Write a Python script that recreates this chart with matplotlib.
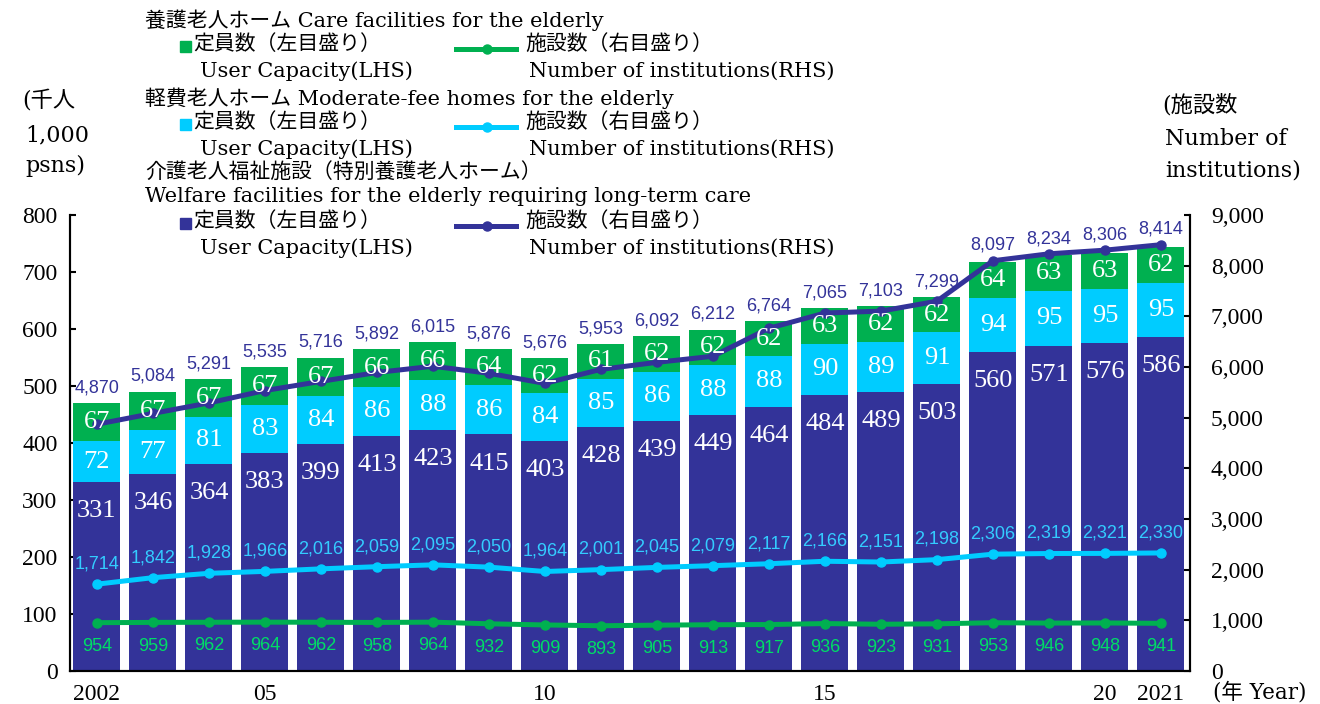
import matplotlib
matplotlib.use("Agg")
import matplotlib.pyplot as plt
import numpy as np
from matplotlib.lines import Line2D
from matplotlib.patches import Rectangle

# ---- data ----
years = [2002, 2003, 2004, 2005, 2006, 2007, 2008, 2009, 2010, 2011,
         2012, 2013, 2014, 2015, 2016, 2017, 2018, 2019, 2020, 2021]
year_labels = ["2002", "", "", "05", "", "", "", "", "10", "",
               "", "", "", "15", "", "", "", "", "20", "2021"]

# 定員数 (千人)
cap_welfare = [331, 346, 364, 383, 399, 413, 423, 415, 403, 428,
               439, 449, 464, 484, 489, 503, 560, 571, 576, 586]
cap_moderate = [72, 77, 81, 83, 84, 86, 88, 86, 84, 85,
                86, 88, 88, 90, 89, 91, 94, 95, 95, 95]
cap_care = [67, 67, 67, 67, 67, 66, 66, 64, 62, 61,
            62, 62, 62, 63, 62, 62, 64, 63, 63, 62]

# 施設数
inst_welfare = [4870, 5084, 5291, 5535, 5716, 5892, 6015, 5876, 5676, 5953,
                6092, 6212, 6764, 7065, 7103, 7299, 8097, 8234, 8306, 8414]
inst_moderate = [1714, 1842, 1928, 1966, 2016, 2059, 2095, 2050, 1964, 2001,
                 2045, 2079, 2117, 2166, 2151, 2198, 2306, 2319, 2321, 2330]
inst_care = [954, 959, 962, 964, 962, 958, 964, 932, 909, 893,
             905, 913, 917, 936, 923, 931, 953, 946, 948, 941]

NAVY = "#333399"
LBLUE = "#00CCFF"
GREEN = "#00B050"

SERIF = ["DejaVu Serif", "Noto Sans CJK JP"]
NUMF = ["Liberation Serif", "DejaVu Serif"]
SANSN = ["Liberation Sans Narrow", "Liberation Sans"]

W, H = 1320, 704
fig = plt.figure(figsize=(W / 100, H / 100), dpi=100)

def fx(px):
    return px / W

def fy(py):
    return 1 - py / H

ax = fig.add_axes([fx(70), fy(671), fx(1190) - fx(70), fy(215) - fy(671)])
ax2 = ax.twinx()

x = np.arange(len(years))
cw = np.array(cap_welfare)
cm = np.array(cap_moderate)
cc = np.array(cap_care)
bw = 0.84

ax.bar(x, cw, bw, color=NAVY, zorder=2)
ax.bar(x, cm, bw, bottom=cw, color=LBLUE, zorder=2)
ax.bar(x, cc, bw, bottom=cw + cm, color=GREEN, zorder=2)

ax.set_xlim(-0.48, len(years) - 0.48)
ax.set_ylim(0, 800)
ax.set_yticks(np.arange(0, 801, 100))
ax.set_xticks(x)
ax.set_xticklabels(year_labels)

ax2.set_ylim(0, 9000)
ax2.set_yticks(np.arange(0, 9001, 1000))
ax2.set_yticklabels([f"{v:,}" for v in range(0, 9001, 1000)])

for a in (ax, ax2):
    a.spines["top"].set_visible(False)
    for s in a.spines.values():
        s.set_linewidth(1.5)
ax.tick_params(axis="y", direction="in", length=4.5, width=1.5, pad=9)
ax.tick_params(axis="x", length=0, pad=9)
ax2.tick_params(axis="y", direction="in", length=4.5, width=1.5, pad=15)
for lab in ax.get_yticklabels() + ax.get_xticklabels() + ax2.get_yticklabels():
    lab.set_fontfamily(NUMF)
    lab.set_fontsize(17)

# lines on right axis
lk = dict(lw=3.6, marker="o", markersize=6.5, zorder=4, clip_on=False)
ax2.plot(x, inst_care, color=GREEN, **lk)
ax2.plot(x, inst_moderate, color=LBLUE, **lk)
ax2.plot(x, inst_welfare, color=NAVY, **lk)
ax2.set_zorder(ax.get_zorder() + 1)
ax2.patch.set_visible(False)

# bar value labels
for i in range(len(years)):
    ax2.annotate(str(cw[i]), xy=(i, cw[i] * 9000 / 800), xytext=(0, -21),
                 textcoords="offset points", ha="center", va="center",
                 color="white", fontsize=19, family=NUMF, zorder=6)
    ax2.text(i, (cw[i] + cm[i] / 2) * 9000 / 800, str(cm[i]), ha="center",
             va="center", color="white", fontsize=19, family=NUMF, zorder=6)
    ax2.text(i, (cw[i] + cm[i] + cc[i] / 2) * 9000 / 800, str(cc[i]), ha="center",
             va="center", color="white", fontsize=19, family=NUMF, zorder=6)
    top = max(inst_welfare[i], (cw[i] + cm[i] + cc[i]) * 9000 / 800)
    ax2.annotate(f"{inst_welfare[i]:,}", xy=(i, top), xytext=(0, 11),
                 textcoords="offset points", ha="center", va="center",
                 color=NAVY, fontsize=13, family=SANSN, zorder=6)
    ax2.annotate(f"{inst_moderate[i]:,}", xy=(i, inst_moderate[i]), xytext=(0, 14.5),
                 textcoords="offset points", ha="center", va="center",
                 color="#33CCFF", fontsize=13, family=SANSN, zorder=6)
    ax2.annotate(f"{inst_care[i]:,}", xy=(i, inst_care[i]), xytext=(0, -17),
                 textcoords="offset points", ha="center", va="center",
                 color="#00DD66", fontsize=13, family=SANSN, zorder=6)

# axis unit labels
tk = dict(fontsize=16, family=SERIF, va="center", ha="left")
fig.text(fx(22), fy(101), "(千人", **tk)
fig.text(fx(25), fy(135), "1,000", **tk)
fig.text(fx(25), fy(166), "psns)", **tk)
fig.text(fx(1162), fy(105), "(施設数", **tk)
fig.text(fx(1165), fy(139), "Number of", **tk)
fig.text(fx(1165), fy(171), "institutions)", **tk)
fig.text(fx(1213), fy(693), "(年 Year)", fontsize=15.5, family=SERIF,
         va="center", ha="left")

# legend block
lg = dict(fontsize=15, family=SERIF, va="center", ha="left")
groups = [
    (["養護老人ホーム Care facilities for the elderly"], GREEN, 20),
    (["軽費老人ホーム Moderate-fee homes for the elderly"], LBLUE, 98),
    (["介護老人福祉施設（特別養護老人ホーム）",
      "Welfare facilities for the elderly requiring long-term care"], NAVY, 172),
]
for titles, col, y0 in groups:
    for k, t in enumerate(titles):
        fig.text(fx(145), fy(y0 + 25 * k), t, **lg)
    yr = y0 + 25 * len(titles)
    fig.add_artist(Rectangle((fx(180), fy(yr + 7)), fx(11), 11 / H,
                             transform=fig.transFigure, color=col))
    fig.text(fx(193), fy(yr - 1), "定員数（左目盛り）", **lg)
    fig.text(fx(200), fy(yr + 26), "User Capacity(LHS)", **lg)
    fig.add_artist(Line2D([fx(456), fx(516)], [fy(yr + 4), fy(yr + 4)],
                          transform=fig.transFigure, color=col, lw=3.6))
    fig.add_artist(Line2D([fx(487)], [fy(yr + 4)], transform=fig.transFigure,
                          color=col, marker="o", markersize=6.5))
    fig.text(fx(525), fy(yr - 1), "施設数（右目盛り）", **lg)
    fig.text(fx(529), fy(yr + 26), "Number of institutions(RHS)", **lg)

fig.savefig("out.png", dpi=100)
